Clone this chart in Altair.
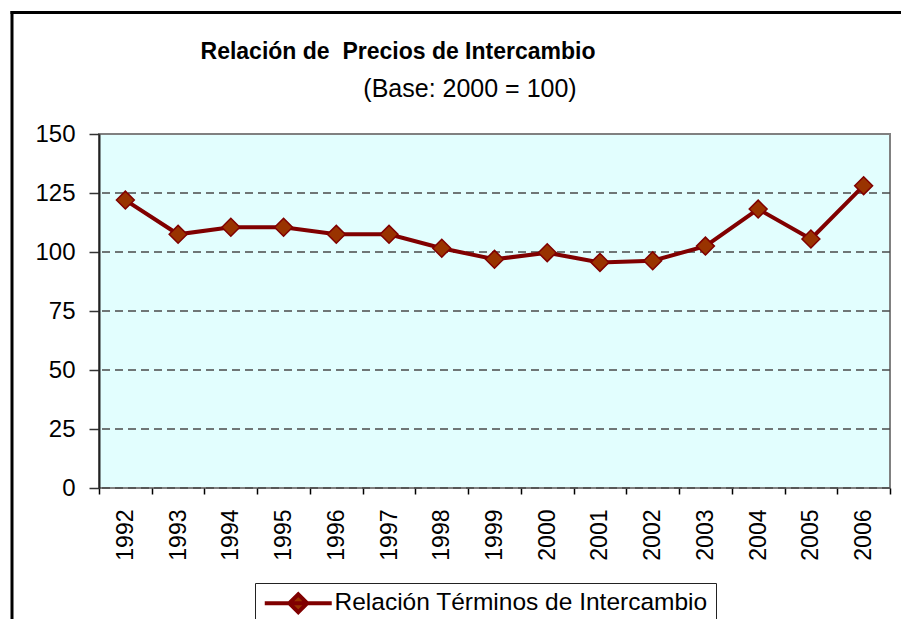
import altair as alt
import pandas as pd

years = ["1992", "1993", "1994", "1995", "1996", "1997", "1998", "1999",
         "2000", "2001", "2002", "2003", "2004", "2005", "2006"]
values = [122.0, 107.5, 110.5, 110.5, 107.5, 107.5, 101.6, 96.9,
          99.7, 95.6, 96.3, 102.5, 118.2, 105.5, 128.1]
series_name = "Relación Términos de Intercambio"
y_ticks = [0, 25, 50, 75, 100, 125, 150]
grid_vals = [0, 25, 50, 75, 100, 125]
title_text = "Relación de\u00a0 Precios de Intercambio"
subtitle_text = "(Base: 2000 = 100)"

df = pd.DataFrame({"year": years, "value": values, "serie": [series_name] * len(years)})
grid_df = pd.DataFrame({"g": grid_vals})

FONT = "Arial"

x_enc = alt.X("year:N", sort=years,
              scale=alt.Scale(paddingInner=0, paddingOuter=0),
              axis=alt.Axis(title=None, labelAngle=270, labelFontSize=23, labelFont=FONT,
                            labelColor="black", tickBand="extent", tickSize=6,
                            tickColor="black", tickWidth=1.5, domain=False, grid=False,
                            labelPadding=15))
y_enc = alt.Y("value:Q", scale=alt.Scale(domain=[0, 150], nice=False, zero=True),
              axis=alt.Axis(title=None, values=y_ticks, labelFontSize=24, labelFont=FONT,
                            labelColor="black", tickSize=10, tickColor="#333333",
                            tickWidth=1.5, domainColor="#222222", domainWidth=2,
                            grid=False, labelPadding=14))

frame_top = alt.Chart(pd.DataFrame({"k": [0]})).mark_rule(
    color="black", strokeWidth=3, clip=False
).encode(x=alt.value(-88.5), x2=alt.value(1000), y=alt.value(-121.5))
frame_left = alt.Chart(pd.DataFrame({"k": [0]})).mark_rule(
    color="black", strokeWidth=3, clip=False
).encode(x=alt.value(-87), y=alt.value(-123), y2=alt.value(700))

grid = alt.Chart(grid_df).mark_rule(
    color="#4a4a4a", strokeWidth=1.5, strokeDash=[8, 5]
).encode(y=alt.Y("g:Q", scale=alt.Scale(domain=[0, 150], nice=False)))

line = alt.Chart(df).mark_line(strokeWidth=4).encode(
    x=x_enc, y=y_enc,
    color=alt.Color("serie:N", scale=alt.Scale(range=["#800000"]),
                    legend=alt.Legend(
                        title=None, orient="none", legendX=156, legendY=449,
                        labelFontSize=24.5, labelFont=FONT, labelColor="black", labelLimit=0,
                        symbolType="M-3.35,0H3.35M-0.9,0L0,-0.9L0.9,0L0,0.9Z",
                        symbolSize=400, symbolStrokeWidth=4, symbolOffset=23,
                        symbolStrokeColor="#800000", symbolFillColor="#993300",
                        strokeColor="#222222", fillColor="white", padding=8,
                        labelOffset=24))
)

points = alt.Chart(df).mark_point(
    shape="diamond", filled=True, size=320, fill="#993300", stroke="#800000",
    strokeWidth=1.5, opacity=1
).encode(x=x_enc, y=y_enc)

title = alt.Chart(pd.DataFrame({"t": [title_text]})).mark_text(
    font=FONT, fontSize=23, fontWeight="bold", color="black", align="center",
    baseline="alphabetic"
).encode(text="t:N", x=alt.value(299), y=alt.value(-75))

subtitle = alt.Chart(pd.DataFrame({"t": [subtitle_text]})).mark_text(
    font=FONT, fontSize=25, color="black", align="center", baseline="alphabetic"
).encode(text="t:N", x=alt.value(371), y=alt.value(-37))

chart = alt.layer(frame_top, frame_left, grid, line, points, title, subtitle).properties(
    width=791, height=354,
    autosize=alt.AutoSizeParams(type="none"),
    padding={"left": 91, "top": 126, "right": 11, "bottom": 131},
    background="white",
).configure_view(
    fill="#E2FEFE", stroke="#808080", strokeWidth=2
)

chart.save("out.html", embed_options={"renderer": "svg", "actions": False})
